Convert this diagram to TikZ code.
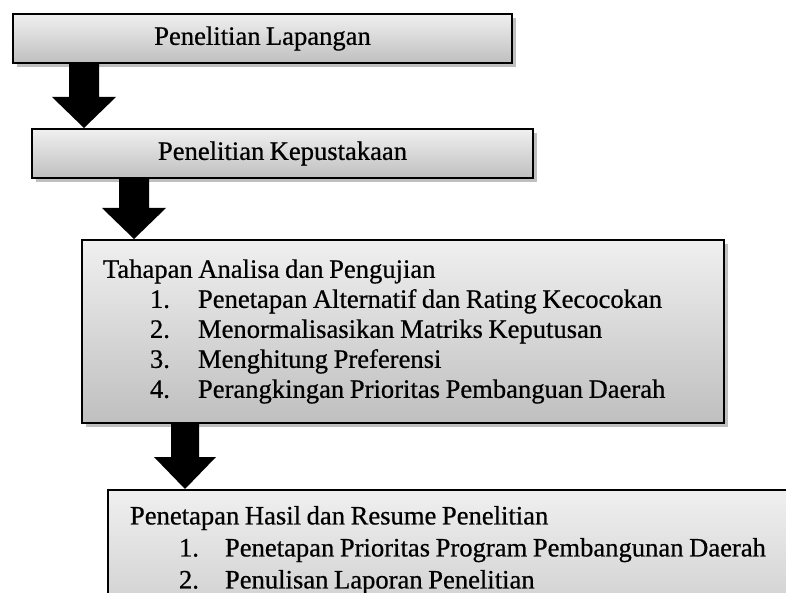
\documentclass[tikz,border=0pt]{standalone}
\usepackage{fontspec}
\setmainfont[FakeBold=0.6,WordSpace=0.8]{Liberation Serif}
\usetikzlibrary{shadows,calc}
\tikzset{
  box/.style={draw=black, line width=2pt, top color=gray!12, bottom color=gray!50,
    drop shadow={shadow xshift=4pt, shadow yshift=-4pt, fill=black, opacity=0.25},
    inner sep=0pt, font=\fontsize{26.6pt}{30pt}\selectfont, text=black},
  arrowfill/.style={fill=black}
}
\newcommand\tightsp{\spaceskip=0.21em plus 0.05em\relax\xspaceskip=0.21em\relax}
% #1 start coordinate, #2 tip coordinate, #3 shaft half width, #4 head half width, #5 head length
\newcommand\blockarr[5]{%
  \fill[arrowfill] ($(#1)+(-#3,0)$) -- ($(#1)+(#3,0)$) -- ($(#2)+(#3,-#5)$) -- ($(#2)+(#4,-#5)$)
    -- (#2) -- ($(#2)+(-#4,-#5)$) -- ($(#2)+(-#3,-#5)$) -- cycle;}
\begin{document}
\begin{tikzpicture}[x=1pt,y=-1pt]
\useasboundingbox (0,0) rectangle (786,593);
\clip (0,0) rectangle (786,593);
\node[box, minimum width=499pt, minimum height=49pt] (b1) at (262.5,38.5) {Penelitian Lapangan};
\node[box, minimum width=501pt, minimum height=49pt] (b2) at (282.5,153.5) {Penelitian Kepustakaan};
\node[box, minimum width=642pt, minimum height=183pt, text width=600pt, inner xsep=21pt, align=left] (b3) at (403,331.5)
 {\tightsp Tahapan Analisa dan Pengujian\\
  \hspace*{47pt}\makebox[48pt][l]{1.}Penetapan Alternatif dan Rating Kecocokan\\
  \hspace*{47pt}\makebox[48pt][l]{2.}Menormalisasikan Matriks Keputusan\\
  \hspace*{47pt}\makebox[48pt][l]{3.}Menghitung Preferensi\\
  \hspace*{47pt}\makebox[48pt][l]{4.}Perangkingan Prioritas Pembanguan Daerah};
\node[box, anchor=north west, text width=700pt, inner xsep=22pt, inner ysep=16pt, align=left,
      font=\fontsize{26.6pt}{32pt}\selectfont] (b4) at (107,489)
 {\tightsp Penetapan Hasil dan Resume Penelitian\\
  \hspace*{49pt}\makebox[46pt][l]{1.}Penetapan Prioritas Program Pembangunan Daerah\\
  \hspace*{49pt}\makebox[46pt][l]{2.}Penulisan Laporan Penelitian\\[40pt]\mbox{}};
\path ([xshift=72pt]b1.south west) coordinate (a1s);
\path (a1s |- b2.north) coordinate (a1e);
\path ([xshift=103pt]b2.south west) coordinate (a2s);
\path (a2s |- b3.north) coordinate (a2e);
\path ([xshift=104pt]b3.south west) coordinate (a3s);
\path (a3s |- b4.north) coordinate (a3e);
\blockarr{a1s}{a1e}{15}{32}{31}
\blockarr{a2s}{a2e}{15}{32}{31}
\blockarr{a3s}{a3e}{14}{31}{32}
\end{tikzpicture}
\end{document}
